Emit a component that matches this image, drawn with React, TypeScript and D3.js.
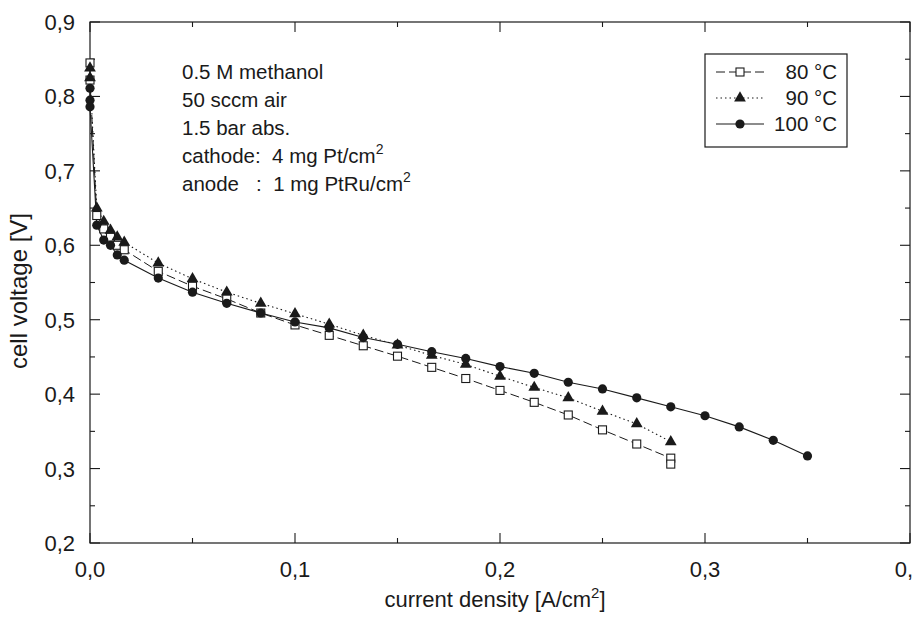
import React from "react";
import * as d3 from "d3";

const current80 = [0, 0, 0.0033, 0.0067, 0.01, 0.0133, 0.0167, 0.0333, 0.05, 0.0667, 0.0833, 0.1, 0.1167, 0.1333, 0.15, 0.1667, 0.1833, 0.2, 0.2167, 0.2333, 0.25, 0.2667, 0.2833, 0.2833];
const voltage80 = [0.845, 0.822, 0.64, 0.622, 0.611, 0.6, 0.594, 0.565, 0.545, 0.528, 0.509, 0.493, 0.479, 0.465, 0.451, 0.436, 0.421, 0.405, 0.389, 0.372, 0.352, 0.333, 0.314, 0.306];

const current90 = [0, 0, 0.0033, 0.0067, 0.01, 0.0133, 0.0167, 0.0333, 0.05, 0.0667, 0.0833, 0.1, 0.1167, 0.1333, 0.15, 0.1667, 0.1833, 0.2, 0.2167, 0.2333, 0.25, 0.2667, 0.2833];
const voltage90 = [0.838, 0.825, 0.65, 0.632, 0.62, 0.611, 0.604, 0.576, 0.555, 0.537, 0.522, 0.508, 0.494, 0.479, 0.466, 0.452, 0.44, 0.424, 0.409, 0.395, 0.377, 0.36, 0.336];

const current100 = [0, 0, 0, 0.0033, 0.0067, 0.01, 0.0133, 0.0167, 0.0333, 0.05, 0.0667, 0.0833, 0.1, 0.1167, 0.1333, 0.15, 0.1667, 0.1833, 0.2, 0.2167, 0.2333, 0.25, 0.2667, 0.2833, 0.3, 0.3167, 0.3333, 0.35];
const voltage100 = [0.811, 0.795, 0.786, 0.627, 0.607, 0.6, 0.587, 0.58, 0.556, 0.537, 0.522, 0.509, 0.497, 0.489, 0.476, 0.467, 0.457, 0.448, 0.437, 0.428, 0.416, 0.407, 0.395, 0.383, 0.371, 0.356, 0.338, 0.317];

const xMajorTicks = [0, 0.1, 0.2, 0.3, 0.4];
const xTickLabels = ["0,0", "0,1", "0,2", "0,3", "0,4"];
const xMinorTicks = [0.05, 0.15, 0.25, 0.35];
const yMajorTicks = [0.2, 0.3, 0.4, 0.5, 0.6, 0.7, 0.8, 0.9];
const yTickLabels = ["0,2", "0,3", "0,4", "0,5", "0,6", "0,7", "0,8", "0,9"];
const yMinorTicks = [0.25, 0.35, 0.45, 0.55, 0.65, 0.75, 0.85];

const seriesNames = ["80 °C", "90 °C", "100 °C"];
const annotationLines = ["0.5 M methanol", "50 sccm air", "1.5 bar abs."];

const W = 913, H = 620;
const L = 90, R = 910, T = 22, B = 543;
const FONT = "'Liberation Sans', Arial, sans-serif";
const INK = "#1a1a1a";

export default function App() {
  const x = d3.scaleLinear().domain([0, 0.4]).range([L, R]);
  const y = d3.scaleLinear().domain([0.2, 0.9]).range([B, T]);

  const line = d3.line<[number, number]>().x(d => x(d[0])).y(d => y(d[1]));
  const pts = (cs: number[], vs: number[]) => cs.map((c, i) => [c, vs[i]] as [number, number]);

  const s80 = pts(current80, voltage80);
  const s90 = pts(current90, voltage90);
  const s100 = pts(current100, voltage100);

  const tri = d3.symbol().type(d3.symbolTriangle).size(60)() as string;

  const square = (cx: number, cy: number, k: any) => (
    <rect key={k} x={cx - 4} y={cy - 4} width={8} height={8} fill="white" stroke={INK} strokeWidth={1.1} />
  );
  const triangle = (cx: number, cy: number, k: any) => (
    <path key={k} d={tri} transform={`translate(${cx},${cy})`} fill={INK} />
  );
  const circle = (cx: number, cy: number, k: any) => (
    <circle key={k} cx={cx} cy={cy} r={4.6} fill={INK} />
  );

  const legX0 = 716, legX1 = 764, legMid = 740;
  const legRows = [72, 98, 124];

  return (
    <div style={{ position: "absolute", left: 0, top: 0 }}>
      <svg width={W} height={H} style={{ display: "block", background: "white" }} fontFamily={FONT}>
        {/* frame */}
        <rect x={L} y={T} width={R - L} height={B - T} fill="none" stroke={INK} strokeWidth={1.2} />

        {/* x ticks */}
        {xMajorTicks.map((t, i) => (
          <g key={"xm" + i}>
            <line x1={x(t)} x2={x(t)} y1={B} y2={B - 10} stroke={INK} strokeWidth={1.1} />
            <line x1={x(t)} x2={x(t)} y1={T} y2={T + 10} stroke={INK} strokeWidth={1.1} />
            <text x={x(t)} y={577} textAnchor="middle" fontSize={22} fill={INK}>{xTickLabels[i]}</text>
          </g>
        ))}
        {xMinorTicks.map((t, i) => (
          <g key={"xn" + i}>
            <line x1={x(t)} x2={x(t)} y1={B} y2={B - 5} stroke={INK} strokeWidth={1.1} />
            <line x1={x(t)} x2={x(t)} y1={T} y2={T + 5} stroke={INK} strokeWidth={1.1} />
          </g>
        ))}
        {/* y ticks */}
        {yMajorTicks.map((t, i) => (
          <g key={"ym" + i}>
            <line x1={L} x2={L + 10} y1={y(t)} y2={y(t)} stroke={INK} strokeWidth={1.1} />
            <line x1={R} x2={R - 10} y1={y(t)} y2={y(t)} stroke={INK} strokeWidth={1.1} />
            <text x={75} y={y(t) + 8} textAnchor="end" fontSize={22} fill={INK}>{yTickLabels[i]}</text>
          </g>
        ))}
        {yMinorTicks.map((t, i) => (
          <g key={"yn" + i}>
            <line x1={L} x2={L + 5} y1={y(t)} y2={y(t)} stroke={INK} strokeWidth={1.1} />
            <line x1={R} x2={R - 5} y1={y(t)} y2={y(t)} stroke={INK} strokeWidth={1.1} />
          </g>
        ))}

        {/* axis titles */}
        <text x={495} y={607} textAnchor="middle" fontSize={22} fill={INK}>
          current density [A/cm<tspan dy={-9} fontSize={15}>2</tspan><tspan dy={9}>]</tspan>
        </text>
        <text transform={`translate(27,291) rotate(-90)`} textAnchor="middle" fontSize={24} fill={INK}>cell voltage [V]</text>

        {/* annotation */}
        {annotationLines.map((s, i) => (
          <text key={"an" + i} x={182} y={79 + i * 28} fontSize={20.5} fill={INK}>{s}</text>
        ))}
        <text x={182} y={163} fontSize={20.5} fill={INK} xmlSpace="preserve">
          cathode:  4 mg Pt/cm<tspan dy={-9} fontSize={14}>2</tspan>
        </text>
        <text x={182} y={191} fontSize={20.5} fill={INK} xmlSpace="preserve">
          anode   :  1 mg PtRu/cm<tspan dy={-9} fontSize={14}>2</tspan>
        </text>

        {/* lines */}
        <path d={line(s80) as string} fill="none" stroke={INK} strokeWidth={1} strokeDasharray="9,4" />
        <path d={line(s90) as string} fill="none" stroke={INK} strokeWidth={1.1} strokeDasharray="1.5,3" />
        <path d={line(s100) as string} fill="none" stroke={INK} strokeWidth={1.1} />

        {/* markers */}
        {s80.map((d, i) => square(x(d[0]), y(d[1]), "s" + i))}
        {s90.map((d, i) => triangle(x(d[0]), y(d[1]), "t" + i))}
        {s100.map((d, i) => circle(x(d[0]), y(d[1]), "c" + i))}

        {/* legend */}
        <rect x={705} y={54} width={142} height={93} fill="white" stroke={INK} strokeWidth={1.2} />
        <line x1={legX0} x2={legX1} y1={legRows[0]} y2={legRows[0]} stroke={INK} strokeWidth={1} strokeDasharray="9,4" />
        {square(legMid, legRows[0], "ls")}
        <line x1={legX0} x2={legX1} y1={legRows[1]} y2={legRows[1]} stroke={INK} strokeWidth={1.1} strokeDasharray="1.5,3" />
        {triangle(legMid, legRows[1], "lt")}
        <line x1={legX0} x2={legX1} y1={legRows[2]} y2={legRows[2]} stroke={INK} strokeWidth={1.1} />
        {circle(legMid, legRows[2], "lc")}
        {seriesNames.map((s, i) => (
          <text key={"lg" + i} x={837} y={legRows[i] + 7} textAnchor="end" fontSize={20.5} fill={INK}>{s}</text>
        ))}
      </svg>
    </div>
  );
}
